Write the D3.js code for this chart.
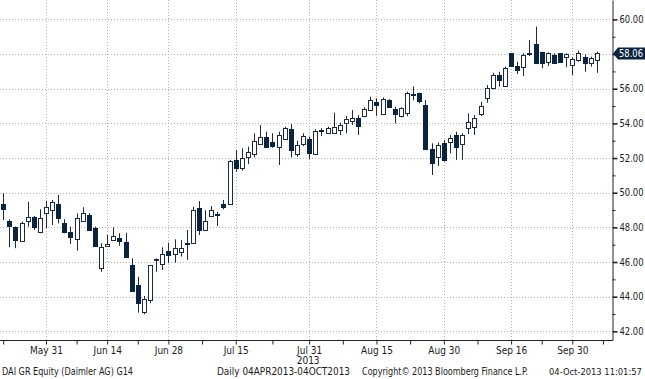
<!DOCTYPE html>
<html>
<head>
<meta charset="utf-8">
<script src="https://cdn.jsdelivr.net/npm/d3@7"></script>
<style>
  html, body { margin: 0; padding: 0; background: #fff; }
  svg text { font-family: "DejaVu Sans", "Liberation Sans", sans-serif; font-stretch: condensed; fill: #1a1a1a; }
</style>
</head>
<body>
<div id="chart"></div>
<script>
// trading days shown (DAI GR, daily)
const dates = [
  "2013-05-22","2013-05-23","2013-05-24","2013-05-27","2013-05-28","2013-05-29","2013-05-30","2013-05-31",
  "2013-06-03","2013-06-04","2013-06-05","2013-06-06","2013-06-07","2013-06-10","2013-06-11","2013-06-12","2013-06-13","2013-06-14",
  "2013-06-17","2013-06-18","2013-06-19","2013-06-20","2013-06-21","2013-06-24","2013-06-25","2013-06-26","2013-06-27","2013-06-28",
  "2013-07-01","2013-07-02","2013-07-03","2013-07-04","2013-07-05","2013-07-08","2013-07-09","2013-07-10","2013-07-11","2013-07-12",
  "2013-07-15","2013-07-16","2013-07-17","2013-07-18","2013-07-19","2013-07-22","2013-07-23","2013-07-24","2013-07-25","2013-07-26",
  "2013-07-29","2013-07-30","2013-07-31",
  "2013-08-01","2013-08-02","2013-08-05","2013-08-06","2013-08-07","2013-08-08","2013-08-09","2013-08-12","2013-08-13","2013-08-14",
  "2013-08-15","2013-08-16","2013-08-19","2013-08-20","2013-08-21","2013-08-22","2013-08-23","2013-08-26","2013-08-27","2013-08-28",
  "2013-08-29","2013-08-30",
  "2013-09-02","2013-09-03","2013-09-04","2013-09-05","2013-09-06","2013-09-09","2013-09-10","2013-09-11","2013-09-12","2013-09-13",
  "2013-09-16","2013-09-17","2013-09-18","2013-09-19","2013-09-20","2013-09-23","2013-09-24","2013-09-25","2013-09-26","2013-09-27",
  "2013-09-30",
  "2013-10-01","2013-10-02","2013-10-03","2013-10-04"
];

const open = [
  49.35,48.38,48.00,47.21,48.38,48.58,47.75,48.85,
  49.00,49.33,48.24,47.75,47.31,48.37,48.71,47.98,45.64,46.92,47.27,47.37,47.17,45.83,44.67,43.13,43.81,46.10,45.88,46.62,
  46.45,46.60,47.12,47.12,49.10,47.85,48.65,48.77,49.35,49.35,51.88,51.41,52.04,52.23,52.80,53.20,52.94,52.65,53.08,53.66,52.21,52.81,53.10,
  52.23,53.60,53.46,53.46,53.62,54.00,54.15,54.29,54.43,54.77,55.25,54.54,55.35,54.83,54.43,54.58,55.70,55.73,55.06,52.50,52.04,52.89,
  52.91,53.33,52.79,53.72,53.81,54.54,55.45,56.02,56.79,56.16,58.04,57.31,57.27,57.98,58.58,58.10,57.56,57.95,58.04,57.81,57.37,
  57.66,57.81,57.47,57.66
];
const high = [
  49.97,48.45,48.05,48.33,49.48,48.65,49.04,49.54,
  49.58,49.87,48.47,48.04,48.81,49.16,48.81,48.04,47.08,47.56,48.00,47.66,47.69,46.21,45.15,44.04,45.83,46.21,46.85,47.12,
  47.31,47.27,47.85,49.19,49.52,48.98,49.23,48.90,49.58,51.88,52.46,52.56,52.65,53.43,53.90,53.52,53.43,53.52,53.81,53.96,53.00,53.43,53.23,
  53.66,53.72,53.81,54.62,54.04,54.43,54.77,54.48,54.93,55.54,55.45,55.50,55.39,54.96,54.93,55.83,56.14,55.77,55.35,52.85,52.89,53.04,
  53.33,53.52,53.43,54.58,54.48,55.25,56.21,56.92,56.98,57.27,58.04,57.56,58.04,58.81,59.58,58.14,58.10,58.04,58.04,58.04,57.81,
  58.20,57.98,57.85,58.14
];
const low = [
  48.42,46.85,46.80,47.17,48.04,47.85,47.66,47.95,
  48.14,48.23,47.66,47.04,46.65,48.33,47.79,46.88,45.44,46.88,47.23,46.94,46.27,44.29,43.08,42.98,43.62,45.44,45.54,45.93,
  45.96,46.31,46.12,47.08,47.56,47.81,48.62,48.08,49.04,49.29,51.21,51.27,51.66,52.04,52.75,52.62,52.60,51.60,53.04,52.04,52.08,52.69,51.93,
  52.17,53.27,53.43,53.43,53.33,53.43,53.91,53.33,54.35,54.73,54.43,54.48,54.93,54.00,54.35,54.42,55.33,55.16,52.46,51.02,51.54,51.79,
  52.27,51.89,51.89,53.39,53.33,54.42,55.19,55.96,56.12,56.12,57.31,56.85,56.73,57.89,57.47,57.18,57.31,57.47,57.50,57.24,56.79,
  57.56,56.98,57.27,56.92
];
const close = [
  49.04,48.10,47.27,48.27,48.58,48.04,48.52,49.16,
  49.45,48.52,47.75,47.43,48.52,48.81,47.85,46.90,46.88,47.02,47.52,47.21,46.31,44.35,43.62,43.87,45.83,46.20,46.46,46.41,
  46.79,46.79,47.06,49.00,47.85,48.38,49.00,48.70,49.20,51.83,51.41,51.98,52.37,53.00,53.20,52.65,52.71,53.33,53.72,52.46,52.75,53.27,52.27,
  53.58,53.56,53.72,53.81,53.91,54.24,54.29,53.85,54.81,55.35,55.06,55.39,54.96,54.52,54.87,55.77,55.67,55.31,52.52,51.70,52.75,51.89,
  53.17,52.65,53.33,54.10,54.29,55.00,56.02,56.79,56.50,57.21,57.33,57.08,57.95,58.08,57.47,57.47,58.04,57.50,57.56,58.00,57.70,
  58.04,57.50,57.76,58.06
];

const tickDates = ["2013-05-31","2013-06-14","2013-06-28","2013-07-15","2013-07-31","2013-08-15","2013-08-30","2013-09-16","2013-09-30"];
const tickLabels = ["May 31","Jun 14","Jun 28","Jul 15","Jul 31","Aug 15","Aug 30","Sep 16","Sep 30"];
const priceTicks = [42, 44, 46, 48, 50, 52, 54, 56, 58, 60];
const minorPriceTicks = [43, 45, 47, 49, 51, 53, 55, 57, 59];
const lastPrice = 58.06;

const width = 645, height = 379;
const plotRight = 612, plotBottom = 340;
const darkFill = "#0c2340";
const lineCol = "#1d2b3c";

const data = dates.map((d, i) => ({ i: i, date: d, o: open[i], h: high[i], l: low[i], c: close[i] }));

const svg = d3.select("#chart").append("svg")
  .attr("width", width)
  .attr("height", height);

let x = d3.scaleLinear()
  .domain([0, dates.length - 1])
  .range([3.16, 596.8]);

let y = d3.scaleLinear()
  .domain([41.5, 61.12])
  .range([plotBottom, 0]);

const majorIdx = tickDates.map(d => dates.indexOf(d));
const minorIdx = [0];
for (let k = 1; k < majorIdx.length; k++) minorIdx.push((majorIdx[k - 1] + majorIdx[k]) / 2);
minorIdx.push(majorIdx[majorIdx.length - 1] + (majorIdx[majorIdx.length - 1] - majorIdx[majorIdx.length - 2]) / 2);

// dotted grid
const grid = svg.append("g").attr("stroke", "#b4b4b4").attr("stroke-dasharray", "1,2");
grid.selectAll(".hg")
  .data(priceTicks)
  .enter().append("line")
  .attr("x1", 0).attr("x2", plotRight)
  .attr("y1", d => Math.round(y(d)) + 0.5)
  .attr("y2", d => Math.round(y(d)) + 0.5);
grid.selectAll(".vg")
  .data(majorIdx)
  .enter().append("line")
  .attr("y1", 0).attr("y2", plotBottom)
  .attr("x1", d => Math.round(x(d)) + 0.5)
  .attr("x2", d => Math.round(x(d)) + 0.5);

// candles
const candles = svg.append("g").selectAll("g")
  .data(data)
  .enter().append("g");

candles.append("line")
  .attr("x1", d => Math.round(x(d.i)) + 0.5)
  .attr("x2", d => Math.round(x(d.i)) + 0.5)
  .attr("y1", d => y(d.h))
  .attr("y2", d => y(d.l))
  .attr("stroke", lineCol)
  .attr("stroke-width", 1);

candles.append("rect")
  .attr("x", d => Math.round(x(d.i)) - 1.5)
  .attr("width", 4)
  .attr("y", d => Math.round(y(Math.max(d.o, d.c))) + 0.5)
  .attr("height", d => Math.max(1, Math.round(y(Math.min(d.o, d.c))) - Math.round(y(Math.max(d.o, d.c)))))
  .attr("fill", d => d.c >= d.o ? "#ffffff" : darkFill)
  .attr("stroke", d => d.c >= d.o ? lineCol : darkFill)
  .attr("stroke-width", 1);

// right price axis
const yAxis = svg.append("g")
  .attr("transform", "translate(" + (plotRight + 0.5) + ",0)")
  .call(d3.axisRight(y).tickValues(priceTicks).tickFormat(d3.format(".2f")).tickSize(5).tickSizeOuter(0).tickPadding(2));
yAxis.select(".domain").attr("stroke", "#222");
yAxis.selectAll(".tick line").attr("stroke", "#222").attr("stroke-width", 1.6);
yAxis.selectAll("text")
  .attr("font-size", 10)
  .attr("textLength", 24)
  .attr("lengthAdjust", "spacingAndGlyphs")
  .attr("fill", "#1a1a1a");
// the last-price flag covers this label in the original
yAxis.selectAll(".tick").filter(d => Math.abs(y(d) - y(lastPrice)) < 8).select("text").remove();

svg.append("g")
  .attr("transform", "translate(" + (plotRight + 0.5) + ",0)")
  .call(d3.axisRight(y).tickValues(minorPriceTicks).tickFormat("").tickSize(3).tickSizeOuter(0))
  .call(g => g.select(".domain").remove())
  .selectAll("line").attr("stroke", "#222");

// bottom date axis
const xAxis = svg.append("g")
  .attr("transform", "translate(0," + (plotBottom + 0.5) + ")")
  .call(d3.axisBottom(x).tickValues(majorIdx).tickFormat((d, k) => tickLabels[k]).tickSize(4).tickPadding(2));
xAxis.select(".domain").remove();
xAxis.selectAll(".tick line").attr("stroke", "#222");
xAxis.selectAll("text").attr("font-size", 10).attr("fill", "#1a1a1a");

svg.append("g")
  .attr("transform", "translate(0," + (plotBottom + 0.5) + ")")
  .call(d3.axisBottom(x).tickValues(minorIdx).tickFormat("").tickSize(4))
  .call(g => g.select(".domain").remove())
  .selectAll("line").attr("stroke", "#222");

svg.append("line")
  .attr("x1", 0).attr("x2", plotRight + 1)
  .attr("y1", plotBottom + 0.5).attr("y2", plotBottom + 0.5)
  .attr("stroke", "#222");

// year under Jul 31
svg.append("text")
  .attr("x", x(dates.indexOf("2013-07-31")) - 1)
  .attr("y", 364)
  .attr("text-anchor", "middle")
  .attr("font-size", 10)
  .text("2013");

// last price marker
const ly = Math.round(y(lastPrice)) + 0.5;
svg.append("path")
  .attr("d", "M" + (plotRight + 1) + "," + ly + " L" + (plotRight + 6) + "," + (ly - 6) + " L645," + (ly - 6) + " L645," + (ly + 6) + " L" + (plotRight + 6) + "," + (ly + 6) + " Z")
  .attr("fill", darkFill);
svg.append("text")
  .attr("x", 631)
  .attr("y", ly + 3.8)
  .attr("text-anchor", "middle")
  .attr("font-size", 10)
  .attr("textLength", 24)
  .attr("lengthAdjust", "spacingAndGlyphs")
  .style("fill", "#ffffff")
  .text(d3.format(".2f")(lastPrice));

// footer
const footer = [
  { t: "DAI GR Equity (Daimler AG) G14", x: 2, w: 131, fs: 10 },
  { t: "Daily 04APR2013-04OCT2013", x: 217, w: 133, fs: 10 },
  { t: "Copyright\u00A9 2013 Bloomberg Finance L.P.", x: 362, w: 166, fs: 10 },
  { t: "04-Oct-2013 11:01:57", x: 549, w: null, fs: 9.3 }
];
svg.selectAll(".foot")
  .data(footer)
  .enter().append("text")
  .attr("x", d => d.x)
  .attr("y", 375)
  .attr("font-size", d => d.fs)
  .attr("textLength", d => d.w)
  .attr("lengthAdjust", d => d.w ? "spacingAndGlyphs" : null)
  .text(d => d.t);
</script>
</body>
</html>
